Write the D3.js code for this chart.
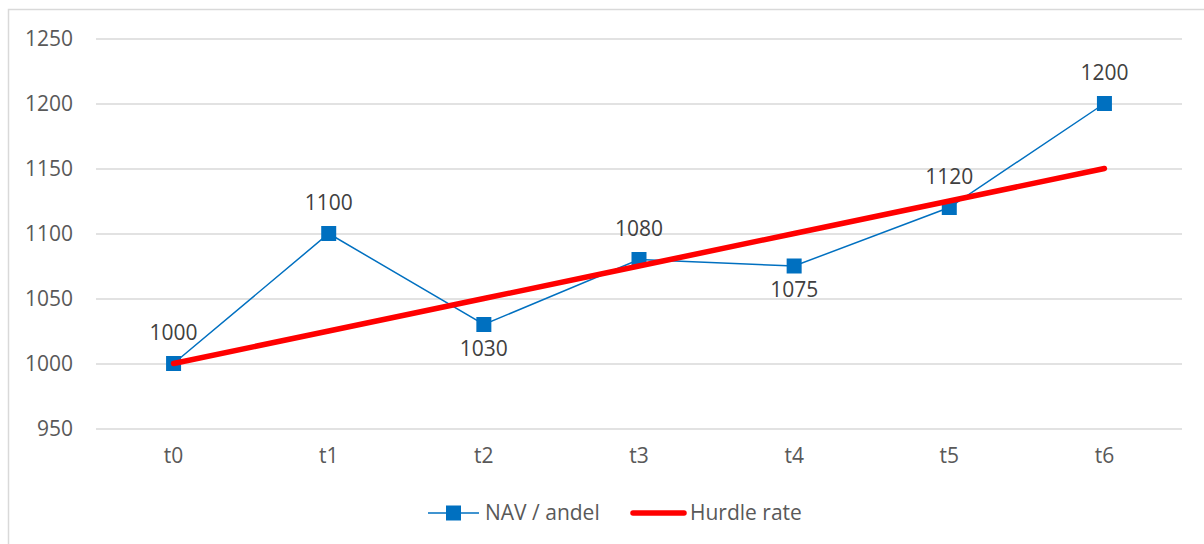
<!DOCTYPE html>
<html>
<head>
<meta charset="utf-8">
<script src="https://cdn.jsdelivr.net/npm/d3@7"></script>
<style>
  html, body { margin: 0; padding: 0; background: #fff; }
  svg { display: block; }
  text { font-family: "Open Sans", "Noto Sans", sans-serif; }
</style>
</head>
<body>
<svg id="chart" width="1204" height="544"></svg>
<script>
const categories = ["t0", "t1", "t2", "t3", "t4", "t5", "t6"];
const navValues = [1000, 1100, 1030, 1080, 1075, 1120, 1200];
const hurdleValues = [1000, 1025, 1050, 1075, 1100, 1125, 1150];
const yTicks = [950, 1000, 1050, 1100, 1150, 1200, 1250];
const labelBelow = [false, false, true, false, true, false, false];
const seriesNames = ["NAV / andel", "Hurdle rate"];

const svg = d3.select("#chart");
const W = 1204, H = 544;
const FS = "21px";

svg.append("rect")
  .attr("x", 8.5).attr("y", 9.5)
  .attr("width", W + 10).attr("height", H + 10)
  .attr("fill", "#fff").attr("stroke", "#d9d9d9").attr("stroke-width", 1.5);

const plot = { left: 96, right: 1182, top: 38.5, bottom: 428.5 };

const x = d3.scaleBand().domain(categories).range([plot.left, plot.right]).padding(0);
const cx = d => x(d) + x.bandwidth() / 2;
const y = d3.scaleLinear().domain([950, 1250]).range([plot.bottom, plot.top]);

const yAxis = d3.axisLeft(y).tickValues(yTicks).tickSize(-(plot.right - plot.left)).tickPadding(23).tickFormat(d3.format("d"));
const gy = svg.append("g").attr("transform", `translate(${plot.left},0)`).call(yAxis);
gy.select(".domain").remove();
gy.selectAll(".tick line").attr("stroke", "#d9d9d9").attr("stroke-width", 1.5);
gy.selectAll(".tick text").attr("fill", "#595959").style("font-size", FS).attr("font-family", "Open Sans");

const xAxis = d3.axisBottom(x).tickSize(0).tickPadding(20);
const gx = svg.append("g").attr("transform", `translate(0,${plot.bottom})`).call(xAxis);
gx.select(".domain").remove();
gx.selectAll(".tick text").attr("fill", "#595959").style("font-size", FS).attr("font-family", "Open Sans");

const navData = categories.map((c, i) => ({ c, v: navValues[i], below: labelBelow[i] }));
const hurdleData = categories.map((c, i) => ({ c, v: hurdleValues[i] }));
const line = d3.line().x(d => cx(d.c)).y(d => y(d.v));

svg.append("path").datum(navData)
  .attr("d", line).attr("fill", "none")
  .attr("stroke", "#0070C0").attr("stroke-width", 1.5);

svg.selectAll("rect.marker").data(navData).enter().append("rect")
  .attr("class", "marker")
  .attr("x", d => cx(d.c) - 7.5).attr("y", d => y(d.v) - 7.5)
  .attr("width", 15).attr("height", 15)
  .attr("fill", "#0070C0");

svg.append("path").datum(hurdleData)
  .attr("d", line).attr("fill", "none")
  .attr("stroke", "#FF0000").attr("stroke-width", 5.5)
  .attr("stroke-linecap", "round").attr("stroke-linejoin", "round");

svg.selectAll("text.dlabel").data(navData).enter().append("text")
  .attr("class", "dlabel")
  .attr("x", d => cx(d.c))
  .attr("y", d => y(d.v) + (d.below ? 31 : -24))
  .attr("text-anchor", "middle")
  .attr("fill", "#404040")
  .style("font-size", FS)
  .text(d => d.v);

const ly = 513;
const lg = svg.append("g");
lg.append("line").attr("x1", 428).attr("x2", 479).attr("y1", ly).attr("y2", ly)
  .attr("stroke", "#0070C0").attr("stroke-width", 1.5);
lg.append("rect").attr("x", 446).attr("y", ly - 7.5).attr("width", 15).attr("height", 15).attr("fill", "#0070C0");
lg.append("text").attr("x", 485).attr("y", ly + 7).attr("fill", "#595959").style("font-size", FS).text(seriesNames[0]);
lg.append("line").attr("x1", 633).attr("x2", 684).attr("y1", ly).attr("y2", ly)
  .attr("stroke", "#FF0000").attr("stroke-width", 5.5).attr("stroke-linecap", "round");
lg.append("text").attr("x", 690).attr("y", ly + 7).attr("fill", "#595959").style("font-size", FS).text(seriesNames[1]);
</script>
</body>
</html>
